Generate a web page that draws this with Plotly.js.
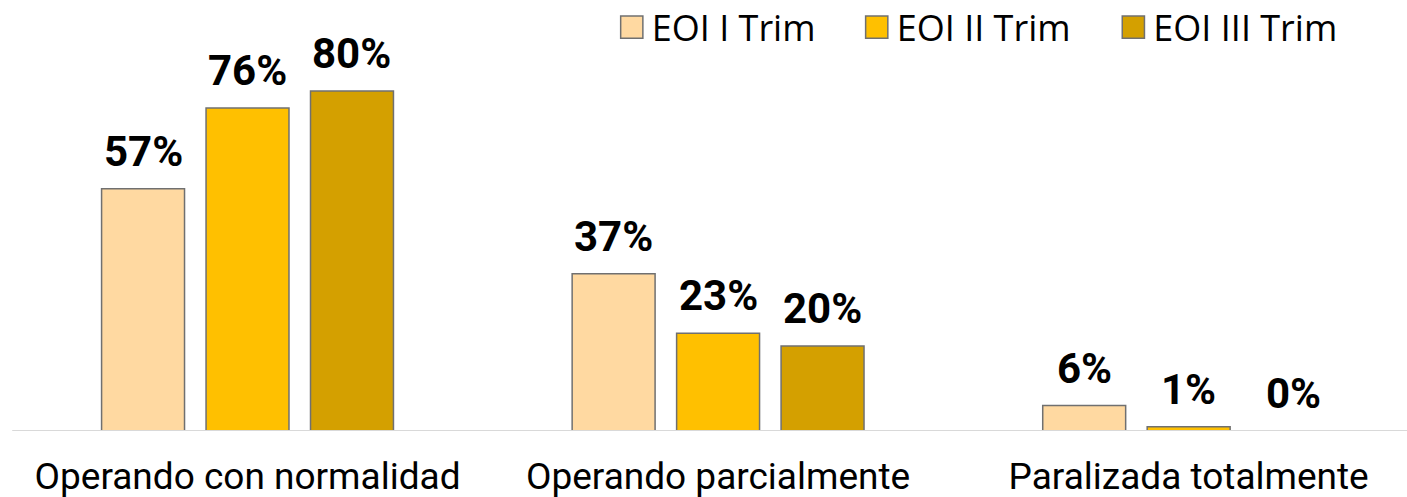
<!DOCTYPE html>
<html>
<head>
<meta charset="utf-8">
<script src="https://cdn.plot.ly/plotly-3.0.1.min.js"></script>
<style>html,body{margin:0;padding:0;background:#fff;}#chart{width:1407px;height:497px;}</style>
</head>
<body>
<div id="chart"></div>
<script>
const categories = ["Operando con normalidad", "Operando parcialmente", "Paralizada totalmente"];
const seriesNames = ["EOI I Trim", "EOI II Trim", "EOI III Trim"];
const eoi1 = [57, 37, 6];
const eoi2 = [76, 23, 1];
const eoi3 = [80, 20, 0];
const seriesValues = [eoi1, eoi2, eoi3];
const seriesColors = ["#FFD9A1", "#FFC000", "#D4A000"];

const BARGAP = 0.334, BARGROUPGAP = 0.206;
const slot = (1 - BARGAP) / seriesValues.length;
const legendIds = ['legend', 'legend2', 'legend3'];
const legendX = [0.4348, 0.6089, 0.7913];

const traces = seriesValues.map((vals, j) => ({
  type: 'bar',
  name: seriesNames[j],
  x: categories,
  y: vals,
  legend: legendIds[j],
  marker: {color: seriesColors[j], line: {color: '#707070', width: 1.5}},
  hoverinfo: 'skip'
}));

const annotations = [];
seriesValues.forEach((vals, j) => {
  vals.forEach((v, i) => {
    annotations.push({
      x: i + (j - (seriesValues.length - 1) / 2) * slot,
      y: v, xref: 'x', yref: 'y',
      text: v + '%', showarrow: false,
      yanchor: 'bottom', yshift: 11,
      font: {family: 'Roboto', size: 42, color: '#000', weight: 700}
    });
  });
});

const layout = {
  width: 1407, height: 497,
  margin: {l: 0, r: 0, t: 0, b: 66, pad: 0, autoexpand: false},
  paper_bgcolor: '#fff', plot_bgcolor: '#fff',
  barmode: 'group', bargap: BARGAP, bargroupgap: BARGROUPGAP,
  font: {family: 'Roboto', color: '#000'},
  xaxis: {
    type: 'category', range: [-0.526, 2.464], automargin: false,
    showline: false, showgrid: false, zeroline: false, ticks: '',
    tickfont: {family: 'Roboto', size: 37, color: '#000'},
    ticklabelstandoff: 20
  },
  yaxis: {range: [0, 101.4], visible: false, showgrid: false, zeroline: false},
  showlegend: true,
  shapes: [{
    type: 'line', xref: 'x', yref: 'y', x0: -0.5, x1: 2.6, y0: 0, y1: 0,
    line: {color: '#D9D9D9', width: 2}, layer: 'above'
  }],
  annotations: annotations
};
legendIds.forEach((id, j) => {
  layout[id] = {
    orientation: 'h', x: legendX[j], xanchor: 'left', y: 1.0065, yanchor: 'top',
    font: {family: 'Open Sans', size: 36, color: '#000'},
    bgcolor: 'rgba(0,0,0,0)', borderwidth: 0
  };
});

Plotly.newPlot('chart', traces, layout, {displayModeBar: false, staticPlot: true}).then(gd => {
  gd.querySelectorAll('.legendpoints path').forEach(p => {
    const t = p.getAttribute('transform') || '';
    p.setAttribute('transform', t + ' scale(1.85)');
    p.style.strokeWidth = (1.5 / 1.85) + 'px';
  });
});
</script>
</body>
</html>
